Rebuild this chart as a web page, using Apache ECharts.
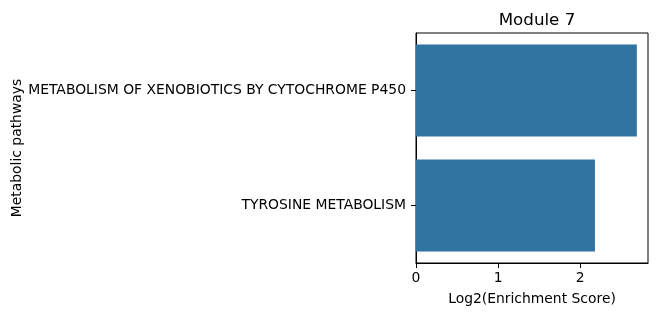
<!DOCTYPE html>
<html>
<head>
<meta charset="utf-8">
<script src="https://cdn.jsdelivr.net/npm/echarts@6/dist/echarts.min.js"></script>
<style>html,body{margin:0;padding:0;background:#fff}#c{width:658px;height:316px}</style>
</head>
<body>
<div id="c"></div>
<script>
const categories = ["METABOLISM OF XENOBIOTICS BY CYTOCHROME P450", "TYROSINE METABOLISM"];
const values = [2.69, 2.18];
const xTicks = [0, 1, 2];

const chart = echarts.init(document.getElementById('c'), null, {renderer: 'canvas'});
const font = 'DejaVu Sans';
chart.setOption({
  animation: false,
  title: {
    text: 'Module 7', left: 532, top: 7, textAlign: 'center',
    textStyle: {fontFamily: font, fontSize: 16.7, fontWeight: 'normal', color: '#000'}
  },
  grid: {left: 416, right: 10, top: 33, bottom: 53, show: true, borderColor: '#000', borderWidth: 1, backgroundColor: 'transparent'},
  xAxis: {
    type: 'value', min: 0, max: 2.826,
    name: 'Log2(Enrichment Score)', nameLocation: 'middle', nameGap: 29,
    nameTextStyle: {fontFamily: font, fontSize: 13.9, color: '#000'},
    axisLine: {show: true, onZero: false, lineStyle: {color: '#000', width: 1}},
    axisTick: {show: true, length: 5, lineStyle: {color: '#000'}, customValues: xTicks},
    axisLabel: {fontFamily: font, fontSize: 13.9, color: '#000', margin: 8, customValues: xTicks},
    splitLine: {show: false}
  },
  yAxis: {
    type: 'category', data: categories, inverse: true,
    name: 'Metabolic pathways', nameLocation: 'middle', nameGap: 392,
    nameTextStyle: {fontFamily: font, fontSize: 13.9, color: '#000'},
    axisLine: {show: true, lineStyle: {color: '#000', width: 1}},
    axisTick: {show: true, length: 5, alignWithLabel: true, lineStyle: {color: '#000'}},
    axisLabel: {fontFamily: font, fontSize: 13.9, color: '#000', margin: 10},
    splitLine: {show: false}
  },
  series: [{
    type: 'bar', data: values, barCategoryGap: '20%',
    itemStyle: {color: '#3274a1'}
  }]
});
</script>
</body>
</html>
